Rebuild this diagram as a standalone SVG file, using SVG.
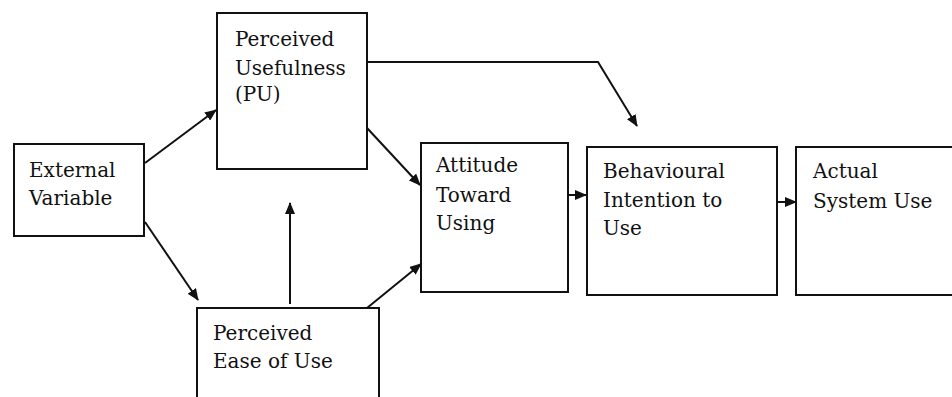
<svg xmlns="http://www.w3.org/2000/svg" width="952" height="397" viewBox="0 0 952 397">
<style>
.box{fill:#fff;stroke:#111;stroke-width:2}
.t{font-family:'DejaVu Serif','Liberation Serif',serif;font-size:20px;fill:#111}
.c{fill:none;stroke:#111;stroke-width:2}
</style>
<defs>
<marker id="ah" markerUnits="userSpaceOnUse" markerWidth="12" markerHeight="10" refX="11" refY="5" orient="auto">
<path d="M0,0 L12,5 L0,10 Z" fill="#111"/>
</marker>
</defs>
<rect width="952" height="397" fill="#fff"/>
<g id="ext">
<rect class="box" x="14" y="144" width="130" height="92"/>
<text class="t" x="29" y="177">External</text>
<text class="t" x="29" y="205">Variable</text>
</g>
<g id="pu">
<rect class="box" x="217" y="13" width="150" height="156"/>
<text class="t" x="235" y="46">Perceived</text>
<text class="t" x="235" y="75">Usefulness</text>
<text class="t" x="235" y="101">(PU)</text>
</g>
<g id="peu">
<rect class="box" x="197" y="308" width="182" height="100"/>
<text class="t" x="213" y="340">Perceived</text>
<text class="t" x="213" y="368">Ease of Use</text>
</g>
<g id="atu">
<rect class="box" x="421" y="143" width="147" height="149"/>
<text class="t" x="436" y="172">Attitude</text>
<text class="t" x="436" y="202">Toward</text>
<text class="t" x="436" y="230">Using</text>
</g>
<g id="bi">
<rect class="box" x="587" y="147" width="190" height="148"/>
<text class="t" x="603" y="178">Behavioural</text>
<text class="t" x="603" y="207">Intention to</text>
<text class="t" x="603" y="235">Use</text>
</g>
<g id="asu">
<rect class="box" x="796" y="147" width="170" height="148"/>
<text class="t" x="813" y="178">Actual</text>
<text class="t" x="813" y="208">System Use</text>
</g>
<g id="connectors">
<line class="c" x1="145" y1="163" x2="216" y2="110" marker-end="url(#ah)"/>
<line class="c" x1="145" y1="222" x2="198" y2="300" marker-end="url(#ah)"/>
<line class="c" x1="290" y1="304" x2="290" y2="203" marker-end="url(#ah)"/>
<line class="c" x1="367" y1="308" x2="421" y2="264" marker-end="url(#ah)"/>
<line class="c" x1="367" y1="128" x2="420" y2="185" marker-end="url(#ah)"/>
<polyline class="c" points="367,62 598,62 637,126" marker-end="url(#ah)"/>
<line class="c" x1="568" y1="195" x2="586" y2="195" marker-end="url(#ah)"/>
<line class="c" x1="777" y1="202" x2="796" y2="202" marker-end="url(#ah)"/>
</g>
</svg>
